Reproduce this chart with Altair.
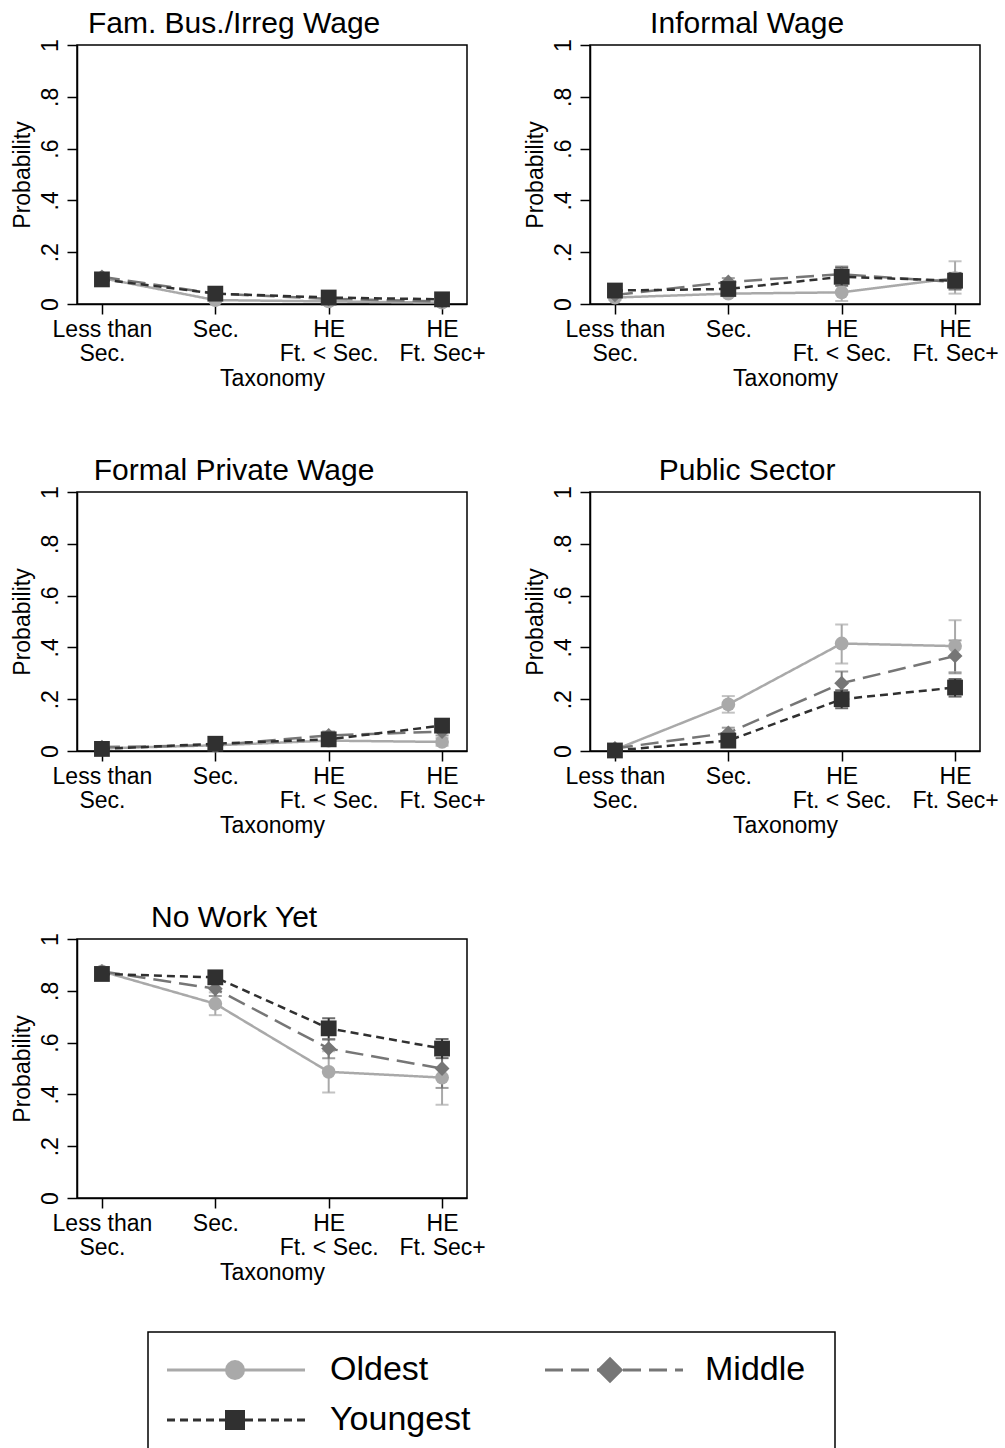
import altair as alt
import pandas as pd

FONT = "Liberation Sans"

categories = ["Less than\nSec.", "Sec.", "HE\nFt. < Sec.", "HE\nFt. Sec+"]
series = ["Oldest", "Middle", "Youngest"]
series_colors = ["#a9a9a9", "#767676", "#303030"]
panel_titles = ["Fam. Bus./Irreg Wage", "Informal Wage", "Formal Private Wage",
                "Public Sector", "No Work Yet"]

# ---- Fam. Bus./Irreg Wage ----
fam_mean = {"Oldest": [0.100, 0.015, 0.010, 0.005],
            "Middle": [0.105, 0.040, 0.020, 0.010],
            "Youngest": [0.095, 0.040, 0.025, 0.018]}
fam_lo = {"Oldest": [0.088, 0.009, 0.004, 0.001],
          "Middle": [0.093, 0.032, 0.013, 0.004],
          "Youngest": [0.084, 0.031, 0.017, 0.010]}
fam_hi = {"Oldest": [0.112, 0.021, 0.016, 0.009],
          "Middle": [0.117, 0.048, 0.027, 0.016],
          "Youngest": [0.106, 0.049, 0.033, 0.026]}

# ---- Informal Wage ----
inf_mean = {"Oldest": [0.025, 0.040, 0.045, 0.100],
            "Middle": [0.035, 0.085, 0.115, 0.085],
            "Youngest": [0.052, 0.058, 0.105, 0.090]}
inf_lo = {"Oldest": [0.015, 0.030, 0.012, 0.040],
          "Middle": [0.025, 0.070, 0.085, 0.055],
          "Youngest": [0.042, 0.046, 0.070, 0.060]}
inf_hi = {"Oldest": [0.035, 0.050, 0.080, 0.165],
          "Middle": [0.045, 0.100, 0.145, 0.115],
          "Youngest": [0.062, 0.070, 0.140, 0.120]}

# ---- Formal Private Wage ----
fpw_mean = {"Oldest": [0.010, 0.022, 0.040, 0.035],
            "Middle": [0.015, 0.022, 0.060, 0.075],
            "Youngest": [0.008, 0.028, 0.045, 0.098]}
fpw_lo = {"Oldest": [0.005, 0.017, 0.025, 0.020],
          "Middle": [0.010, 0.017, 0.045, 0.060],
          "Youngest": [0.004, 0.022, 0.033, 0.085]}
fpw_hi = {"Oldest": [0.015, 0.027, 0.055, 0.050],
          "Middle": [0.020, 0.027, 0.075, 0.090],
          "Youngest": [0.012, 0.034, 0.057, 0.111]}

# ---- Public Sector ----
pub_mean = {"Oldest": [0.005, 0.180, 0.415, 0.405],
            "Middle": [0.010, 0.070, 0.262, 0.367],
            "Youngest": [0.002, 0.040, 0.200, 0.245]}
pub_lo = {"Oldest": [0.000, 0.148, 0.338, 0.305],
          "Middle": [0.002, 0.050, 0.220, 0.300],
          "Youngest": [0.000, 0.028, 0.165, 0.210]}
pub_hi = {"Oldest": [0.010, 0.212, 0.488, 0.505],
          "Middle": [0.018, 0.090, 0.307, 0.427],
          "Youngest": [0.006, 0.052, 0.235, 0.278]}

# ---- No Work Yet ----
nwy_mean = {"Oldest": [0.875, 0.750, 0.487, 0.465],
            "Middle": [0.875, 0.808, 0.577, 0.500],
            "Youngest": [0.865, 0.852, 0.655, 0.577]}
nwy_lo = {"Oldest": [0.860, 0.706, 0.407, 0.360],
          "Middle": [0.860, 0.780, 0.540, 0.425],
          "Youngest": [0.855, 0.830, 0.612, 0.540]}
nwy_hi = {"Oldest": [0.890, 0.794, 0.567, 0.570],
          "Middle": [0.890, 0.836, 0.614, 0.575],
          "Youngest": [0.875, 0.874, 0.694, 0.614]}

panel_data = [(fam_mean, fam_lo, fam_hi), (inf_mean, inf_lo, inf_hi),
              (fpw_mean, fpw_lo, fpw_hi), (pub_mean, pub_lo, pub_hi),
              (nwy_mean, nwy_lo, nwy_hi)]

y_ticks = [0, 0.2, 0.4, 0.6, 0.8, 1]

color_scale = alt.Scale(domain=series, range=series_colors)
dash_scale = alt.Scale(domain=series, range=[[1, 0], [18, 8], [8, 5]])
shape_scale = alt.Scale(domain=series, range=["circle", "diamond", "square"])
size_scale = alt.Scale(domain=series, range=[190, 250, 150])

x_enc = alt.X("edu:N", sort=categories,
              scale=alt.Scale(type="point", padding=0.22),
              axis=alt.Axis(title="Taxonomy", labelAngle=0,
                            labelExpr="split(datum.label, '\\n')",
                            labelLineHeight=24, labelPadding=4,
                            titlePadding=2))
y_axis = alt.Axis(title="Probability", values=y_ticks, labelAngle=270,
                  labelFlush=False, labelPadding=5, titlePadding=5,
                  labelExpr="datum.value == 0 ? '0' : datum.value == 1 ? '1' : "
                            "replace(format(datum.value, '.1f'), '0.', '.')")
y_scale = alt.Scale(domain=[0, 1], nice=False)


def make_panel(title, mean, lo, hi):
    rows = []
    for s in series:
        for i, c in enumerate(categories):
            rows.append({"edu": c, "series": s, "p": mean[s][i],
                         "lo": lo[s][i], "hi": hi[s][i]})
    df = pd.DataFrame(rows)
    base = alt.Chart(df)
    yq = alt.Y("p:Q", scale=y_scale, axis=y_axis)
    col = alt.Color("series:N", scale=color_scale, legend=None)
    ci = base.mark_rule(strokeWidth=2).encode(
        x=x_enc, y=alt.Y("lo:Q", scale=y_scale, axis=y_axis),
        y2="hi:Q", color=col)
    cap_lo = base.mark_tick(size=13, thickness=2, orient="horizontal").encode(
        x=x_enc, y="lo:Q", color=col)
    cap_hi = base.mark_tick(size=13, thickness=2, orient="horizontal").encode(
        x=x_enc, y="hi:Q", color=col)
    line = base.mark_line(strokeWidth=2.5).encode(
        x=x_enc, y=yq, color=col,
        strokeDash=alt.StrokeDash("series:N", scale=dash_scale, legend=None),
        detail="series:N")
    pts = base.transform_calculate(
        order="indexof(['Oldest','Middle','Youngest'], datum.series)"
    ).mark_point(filled=True, opacity=1).encode(
        x=x_enc, y=yq, color=col,
        shape=alt.Shape("series:N", scale=shape_scale, legend=None),
        size=alt.Size("series:N", scale=size_scale, legend=None),
        order=alt.Order("order:Q"))
    return alt.layer(ci, cap_lo, cap_hi, line, pts).properties(
        width=390, height=259,
        title=alt.TitleParams(title, fontSize=30, font=FONT, fontWeight="normal",
                              anchor="middle", frame="bounds", offset=0, dx=-14,
                              color="black"))


panels = [make_panel(t, *d) for t, d in zip(panel_titles, panel_data)]
grid = alt.concat(*panels, columns=2,
                  spacing=alt.RowColnumber(row=63, column=37))

# ---- manual legend (Stata-style key) ----
leg_df = pd.DataFrame({"series": series, "col": [0, 1, 0], "row": [0, 0, 1]})
leg_base = alt.Chart(leg_df).transform_calculate(
    x0="19 + datum.col * 378", x1="157 + datum.col * 378",
    xm="87 + datum.col * 375", xt="182 + datum.col * 375",
    yy="38 + datum.row * 50",
    lsize="datum.series == 'Middle' ? 700 : 400")
lx = alt.Scale(domain=[0, 687], nice=False)
ly = alt.Scale(domain=[0, 126], nice=False, reverse=True)
lcol = alt.Color("series:N", scale=color_scale, legend=None)
leg_lines = leg_base.mark_rule(strokeWidth=3).encode(
    x=alt.X("x0:Q", scale=lx, axis=None), x2="x1:Q",
    y=alt.Y("yy:Q", scale=ly, axis=None), color=lcol,
    strokeDash=alt.StrokeDash("series:N", scale=dash_scale, legend=None))
leg_pts = leg_base.mark_point(filled=True, opacity=1).encode(
    x=alt.X("xm:Q", scale=lx, axis=None),
    y=alt.Y("yy:Q", scale=ly, axis=None), color=lcol,
    shape=alt.Shape("series:N", scale=shape_scale, legend=None),
    size=alt.Size("lsize:Q", scale=None, legend=None))
leg_text = leg_base.mark_text(align="left", baseline="middle", fontSize=34,
                              font=FONT, color="black").encode(
    x=alt.X("xt:Q", scale=lx, axis=None),
    y=alt.Y("yy:Q", scale=ly, axis=None), text="series:N")
legend = alt.layer(leg_lines, leg_pts, leg_text).properties(width=687, height=126)

spacer = alt.Chart(pd.DataFrame({"a": [0]})).mark_point(opacity=0).encode(
    x=alt.value(0), y=alt.value(0)
).properties(width=59, height=126,
             view=alt.ViewBackground(stroke="transparent"))

legend_row = alt.hconcat(spacer, legend, spacing=10)

chart = alt.vconcat(grid, legend_row, spacing=43).resolve_scale(
    size="independent"
).properties(
    padding={"left": 10, "top": 7, "right": 0, "bottom": 0},
    background="white"
).configure_view(
    stroke="black", strokeWidth=1.5
).configure_axis(
    labelFont=FONT, titleFont=FONT, labelFontSize=23, titleFontSize=23,
    labelColor="black", titleColor="black", tickColor="black",
    domainColor="black", tickSize=10, tickWidth=1.5, domainWidth=1.5,
    grid=False, titleFontWeight="normal"
)

chart.save("out.html", embed_options={"renderer": "svg", "actions": False})
